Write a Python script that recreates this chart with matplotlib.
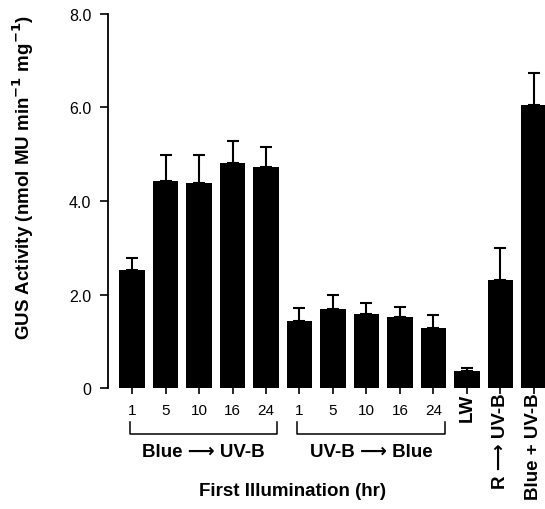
import matplotlib
matplotlib.use("Agg")
import matplotlib.pyplot as plt
import matplotlib.transforms as mtransforms
import numpy as np

plt.rcParams['font.family'] = ['Liberation Sans', 'DejaVu Sans']

# data
hours = ["1", "5", "10", "16", "24", "1", "5", "10", "16", "24"]
extra_labels = ["LW", "R \u27f6 UV-B", "Blue + UV-B"]
gus = [2.53, 4.43, 4.39, 4.81, 4.72,
       1.44, 1.70, 1.58, 1.51, 1.29,
       0.37, 2.32, 6.05]
gus_err = [0.26, 0.55, 0.60, 0.47, 0.44,
           0.27, 0.28, 0.24, 0.23, 0.27,
           0.07, 0.68, 0.68]
groups = ["Blue \u27f6 UV-B", "UV-B \u27f6 Blue"]
group_idx = [(0, 4), (5, 9)]


def main():
    fig = plt.figure(figsize=(5.45, 5.1), dpi=100)
    ax = fig.add_axes([0.198, 0.237, 0.802, 0.734])

    x = np.arange(len(gus))
    ax.bar(x, gus, width=0.75, color='black', zorder=2)
    ax.errorbar(x, gus, yerr=[np.zeros(len(gus)), gus_err], fmt='none',
                ecolor='black', elinewidth=1.5, capsize=4, capthick=1.5,
                zorder=1)

    ax.set_xlim(-0.72, 12.33)
    ax.set_ylim(0, 8.0)
    ax.set_yticks([0, 2, 4, 6, 8])
    ax.set_yticklabels(["0", "2.0", "4.0", "6.0", "8.0"], fontsize=11.5)
    ax.set_xticks(x)
    ax.set_xticklabels(hours + [""] * len(extra_labels), fontsize=11)
    ax.tick_params(axis='x', length=4, width=1.2, pad=7)
    ax.tick_params(axis='y', length=6, width=1.2, pad=6)

    for s in ['top', 'right', 'bottom']:
        ax.spines[s].set_visible(False)
    ax.spines['left'].set_linewidth(1.3)

    ax.set_ylabel("GUS Activity (nmol MU min$^{\\mathbf{-1}}$ mg$^{\\mathbf{-1}}$)",
                  fontsize=13.5, fontweight='bold')
    ax.yaxis.set_label_coords(-0.165, 0.565)

    trans = mtransforms.blended_transform_factory(ax.transData, ax.transAxes)

    for i, lab in enumerate(extra_labels):
        ax.text(10 + i, -0.012, lab, transform=trans, rotation=90,
                ha='center', va='top', fontsize=13.5, fontweight='bold')

    # brackets under the two time series
    for (i0, i1), name in zip(group_idx, groups):
        x0, x1 = i0 - 0.06, i1 + 0.33
        ax.plot([x0, x0, x1, x1], [-0.091, -0.123, -0.123, -0.091],
                color='black', lw=1.1, transform=trans, clip_on=False)
        ax.text((x0 + x1) / 2, -0.146, name, transform=trans, ha='center',
                va='top', fontsize=13.5, fontweight='bold')

    ax.text(4.8, -0.25, "First Illumination (hr)", transform=trans,
            ha='center', va='top', fontsize=13.5, fontweight='bold')

    fig.savefig("out.png", dpi=100)


if __name__ == "__main__":
    main()
